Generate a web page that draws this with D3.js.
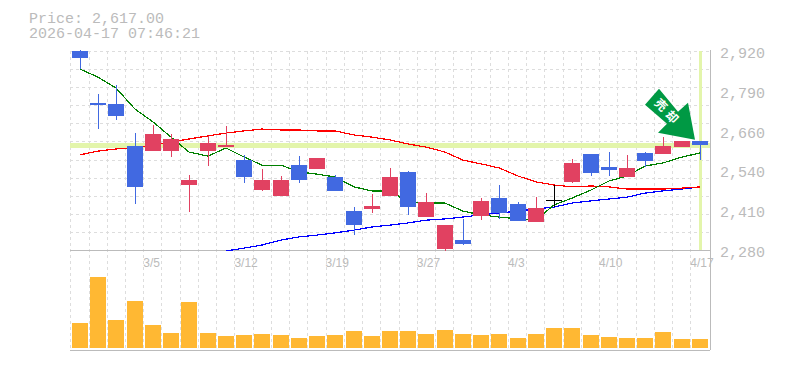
<!DOCTYPE html>
<html>
<head>
<meta charset="utf-8">
<script src="https://cdn.jsdelivr.net/npm/d3@7"></script>
<style>
html, body {margin: 0; padding: 0; background: #fff;}
svg {display: block;}
text {fill: #bbb;}
.mono {font-family: "Liberation Mono", monospace; font-size: 15px;}
.date {font-family: "Liberation Sans", sans-serif; font-size: 12px;}
.grid {stroke: #ddd; stroke-dasharray: 3 3; fill: none;}
.crisp {shape-rendering: crispEdges;}
</style>
</head>
<body>
<div class="chart"></div>
<script>
var priceText = 'Price: 2,617.00'
var timeText = '2026-04-17 07:46:21'
var lastPrice = 2617

// axis ticks are even, the labels are rounded to tens
var priceTicks = [2920, 2792, 2664, 2536, 2408, 2280]
var dateLabels = [[4, '3/5'], [9, '3/12'], [14, '3/19'], [19, '3/27'], [24, '4/3'], [29, '4/10'], [34, '4/17']]

var opens =  [2920, 2753, 2750, 2614, 2598, 2598, 2489, 2598, 2611, 2569, 2473, 2454, 2553, 2540, 2515, 2405, 2412, 2454, 2531, 2386, 2283, 2312, 2389, 2447, 2428, 2370, 2441, 2499, 2589, 2547, 2515, 2592, 2589, 2611, 2631]
var highs =  [2923, 2782, 2811, 2656, 2682, 2653, 2521, 2647, 2679, 2586, 2540, 2518, 2582, 2576, 2521, 2418, 2460, 2544, 2534, 2463, 2360, 2380, 2447, 2489, 2434, 2450, 2489, 2573, 2589, 2595, 2586, 2595, 2643, 2631, 2631]
var lows =   [2862, 2669, 2698, 2428, 2598, 2579, 2402, 2550, 2611, 2495, 2470, 2454, 2495, 2540, 2470, 2328, 2399, 2454, 2393, 2386, 2277, 2296, 2376, 2380, 2373, 2370, 2418, 2495, 2518, 2518, 2515, 2547, 2589, 2611, 2569]
var closes = [2898, 2746, 2711, 2483, 2653, 2637, 2505, 2624, 2618, 2515, 2505, 2505, 2505, 2576, 2470, 2360, 2422, 2515, 2418, 2434, 2360, 2299, 2438, 2399, 2373, 2415, 2438, 2560, 2528, 2537, 2544, 2566, 2614, 2631, 2618]

var maShort = [2862, 2836, 2801, 2733, 2692, 2643, 2595, 2582, 2608, 2579, 2553, 2553, 2531, 2524, 2515, 2483, 2470, 2470, 2434, 2431, 2431, 2405, 2393, 2386, 2380, 2376, 2425, 2447, 2473, 2502, 2518, 2550, 2560, 2579, 2592]
var maMid = [2586, 2598, 2605, 2608, 2618, 2627, 2637, 2647, 2656, 2663, 2669, 2666, 2666, 2663, 2663, 2650, 2643, 2634, 2621, 2611, 2595, 2569, 2557, 2544, 2518, 2499, 2489, 2483, 2486, 2483, 2476, 2476, 2476, 2479, 2483]
var maLong = [null, null, null, null, null, null, null, null, 2277, 2286, 2296, 2312, 2322, 2328, 2335, 2344, 2354, 2360, 2367, 2376, 2380, 2386, 2393, 2399, 2405, 2412, 2418, 2431, 2438, 2444, 2450, 2463, 2470, 2476, 2483]

var volumes = [25, 71, 28, 47, 23, 15, 46, 15, 12, 13, 14, 13, 10, 12, 13, 17, 12, 17, 17, 14, 18, 14, 13, 14, 10, 14, 20, 20, 13, 11, 10, 10, 16, 9, 9]

var blue = '#4169e1', red = '#e14161', highlight = '#e3f5ab'

var svg = d3.select('.chart').append('svg').attr('width', 785).attr('height', 370)

var x = d3.scaleLinear().domain([0, 35]).range([70.3, 708.5])
var y = d3.scaleLinear().domain([2280, 2920]).range([250, 51])
var yVol = d3.scaleLinear().domain([0, 100]).range([348, 248])
var cx = i => Math.round(x(i) + 9.7)

// grid
var hGrid = d3.range(12).map(i => 2920 - i*640/11)
svg.append('g').selectAll('line').data(hGrid).join('line')
  .attr('class', 'grid crisp')
  .attr('x1', x(0)).attr('x2', 710)
  .attr('y1', d => Math.round(y(d))).attr('y2', d => Math.round(y(d)))

svg.append('g').selectAll('line').data(d3.range(35)).join('line')
  .attr('class', 'grid crisp')
  .attr('x1', d => Math.round(x(d))).attr('x2', d => Math.round(x(d)))
  .attr('y1', 51).attr('y2', 350)

// current price and date highlight
svg.append('line').attr('class', 'crisp')
  .attr('x1', x(0)).attr('x2', 710)
  .attr('y1', y(lastPrice)).attr('y2', y(lastPrice))
  .attr('stroke', highlight).attr('stroke-width', 5)
svg.append('line').attr('class', 'crisp')
  .attr('x1', cx(34) + .5).attr('x2', cx(34) + .5)
  .attr('y1', 51).attr('y2', 250)
  .attr('stroke', highlight).attr('stroke-width', 3)

// frame
var frame = [[70, 250, 710, 250], [70, 350, 710, 350], [710, 50, 710, 350]]
svg.append('g').selectAll('line').data(frame).join('line')
  .attr('class', 'crisp')
  .attr('x1', d => d[0]).attr('y1', d => d[1]).attr('x2', d => d[2]).attr('y2', d => d[3])
  .attr('stroke', '#bbb').attr('stroke-width', 1)

// moving averages, they sit behind the candles
var line = d3.line()
  .defined(d => d != null)
  .x((d, i) => cx(i))
  .y(d => y(d))

svg.append('g').attr('class', 'crisp').selectAll('path')
  .data([[maLong, '#0000ff'], [maMid, '#ff0000'], [maShort, '#008000']])
  .join('path')
  .attr('d', d => line(d[0]))
  .attr('fill', 'none')
  .attr('stroke', d => d[1])
  .attr('stroke-width', 1.2)

// candles
var candles = d3.range(35).map(i => ({i, open: opens[i], high: highs[i], low: lows[i], close: closes[i]}))
var candleColor = d => d.i == 26 ? '#000' : d.close < d.open ? blue : red

var candleSel = svg.append('g').attr('class', 'crisp').selectAll('g').data(candles).join('g')

candleSel.append('rect')
  .attr('x', d => cx(d.i))
  .attr('width', 1)
  .attr('y', d => y(d.high))
  .attr('height', d => y(d.low) - y(d.high))
  .attr('fill', candleColor)

candleSel.append('rect')
  .attr('x', d => cx(d.i) - 8)
  .attr('width', 16)
  .attr('y', d => y(Math.max(d.open, d.close)))
  .attr('height', d => Math.max(1, Math.abs(y(d.open) - y(d.close))))
  .attr('fill', candleColor)

// volume
svg.append('g').attr('class', 'crisp').selectAll('rect').data(volumes).join('rect')
  .attr('x', (d, i) => cx(i) - 8)
  .attr('width', 16)
  .attr('y', d => yVol(d))
  .attr('height', d => yVol(0) - yVol(d))
  .attr('fill', '#ffb833')

// labels
svg.append('text').attr('class', 'mono').attr('x', 29).attr('y', 23).text(priceText)
svg.append('text').attr('class', 'mono').attr('x', 29).attr('y', 38).text(timeText)

svg.append('g').selectAll('text').data(priceTicks).join('text')
  .attr('class', 'mono')
  .attr('x', 720)
  .attr('y', d => y(d) + 7)
  .text(d => d3.format(',')(Math.round(d/10)*10))

svg.append('g').selectAll('text').data(dateLabels).join('text')
  .attr('class', 'date')
  .attr('x', d => x(d[0]))
  .attr('y', 267)
  .text(d => d[1])

// signal arrow, pointing at the last candle
var tip = [cx(34) - 5, y(highs[34]) - 1]
var arrowShape = [[0, 0], [-37, -7], [-28, -16], [-50, -35], [-36, -51], [-17, -28], [-7, -37]]
var arrowSel = svg.append('g').attr('transform', `translate(${tip})`)
arrowSel.append('polygon')
  .attr('points', arrowShape.join(' '))
  .attr('fill', '#009944')
arrowSel.selectAll('text').data([['売', -34, -35], ['却', -23, -23]]).join('text')
  .attr('transform', d => `translate(${d[1]},${d[2]}) rotate(45)`)
  .attr('text-anchor', 'middle')
  .attr('dy', '.36em')
  .style('fill', '#fff')
  .style('font-family', '"Noto Sans CJK JP"')
  .style('font-weight', 700)
  .style('font-size', '12px')
  .text(d => d[0])
</script>
</body>
</html>
